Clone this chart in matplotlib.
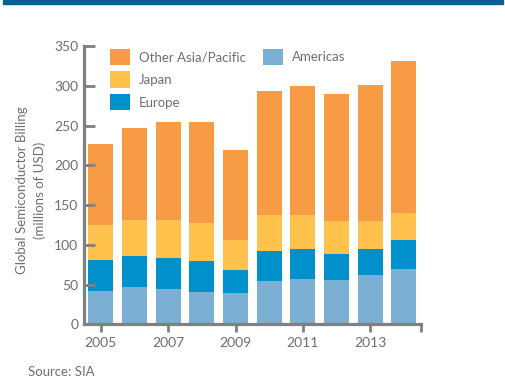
import matplotlib
matplotlib.use("Agg")
from matplotlib import pyplot as plt
from matplotlib.patches import Rectangle
import numpy as np

years = [2005, 2006, 2007, 2008, 2009, 2010, 2011, 2012, 2013, 2014]
# cumulative tops, turned into segment sizes below
americas = [42, 47, 44.5, 40.5, 39, 54, 57, 56, 61.5, 69]
europe_top = [81, 85.5, 84, 79.5, 68, 92, 94.5, 88, 95, 106.5]
japan_top = [124.5, 131.5, 131.5, 128, 106, 137, 137, 130, 130.5, 140.5]
total = [227, 246.5, 254.5, 254.5, 219.5, 294, 299.5, 289.5, 301.5, 331.5]

europe = np.array(europe_top) - np.array(americas)
japan = np.array(japan_top) - np.array(europe_top)
other_asia = np.array(total) - np.array(japan_top)

c_other = '#f79b45'
c_japan = '#fec24d'
c_europe = '#0091cd'
c_amer = '#7bafd3'
grey = '#808080'
txt = '#6d6e71'

plt.rcParams['font.family'] = ['Lato', 'DejaVu Sans']

fig = plt.figure(figsize=(5.06, 3.86), dpi=100)
ax = fig.add_axes([84/506, 1-324.3/386, (420.7-84)/506, (324.3-46)/386])

w = 0.75
b1 = ax.bar(years, americas, w, color=c_amer, label='Americas')
b2 = ax.bar(years, europe, w, bottom=americas, color=c_europe, label='Europe')
b3 = ax.bar(years, japan, w, bottom=europe_top, color=c_japan, label='Japan')
b4 = ax.bar(years, other_asia, w, bottom=japan_top, color=c_other, label='Other Asia/Pacific')

ax.set_xlim(2004.5, 2014.5)
ax.set_ylim(0, 350)
ax.set_yticks(range(0, 351, 50))
ax.set_xticks([2005, 2007, 2009, 2011, 2013, 2014.5])
ax.set_xticklabels(['2005', '2007', '2009', '2011', '2013', ''])

for s in ['top', 'right']:
    ax.spines[s].set_visible(False)
for s in ['left', 'bottom']:
    ax.spines[s].set_color(grey)
    ax.spines[s].set_linewidth(2.3)
    ax.spines[s].set_capstyle('projecting')

ax.tick_params(axis='y', direction='in', length=8, width=2, color=grey,
               labelcolor=txt, labelsize=10, pad=4)
ax.tick_params(axis='x', direction='out', length=6, width=2, color=grey,
               labelcolor=txt, labelsize=10, pad=3)

blank = Rectangle((0, 0), 1, 1, alpha=0)
ax.legend([b4, b3, b2, b1, blank, blank],
          ['Other Asia/Pacific', 'Japan', 'Europe', 'Americas', '', ''],
          ncol=2, frameon=False, loc='upper left',
          bbox_to_anchor=((110-84)/336.7, 0.99), borderpad=0.0, borderaxespad=0,
          handlelength=1.5, handleheight=1.5, labelspacing=0.5,
          handletextpad=0.7, columnspacing=1.3, labelcolor=txt,
          prop={'size': 9.5})

fig.text(31/506, 1-190/386, 'Global Semiconductor Billing\n(millions of USD)',
         rotation=90, ha='center', va='center', color=txt, fontsize=9.5,
         multialignment='center', linespacing=1.45)
fig.text(28/506, 1-372/386, 'Source: SIA', ha='left', va='center',
         color=txt, fontsize=9.5)

fig.patches.append(Rectangle((3/506, 1-3.5/386), 500/506, 3.5/386,
                             transform=fig.transFigure, color='#0d5e8c'))

fig.savefig('out.png', dpi=100)
